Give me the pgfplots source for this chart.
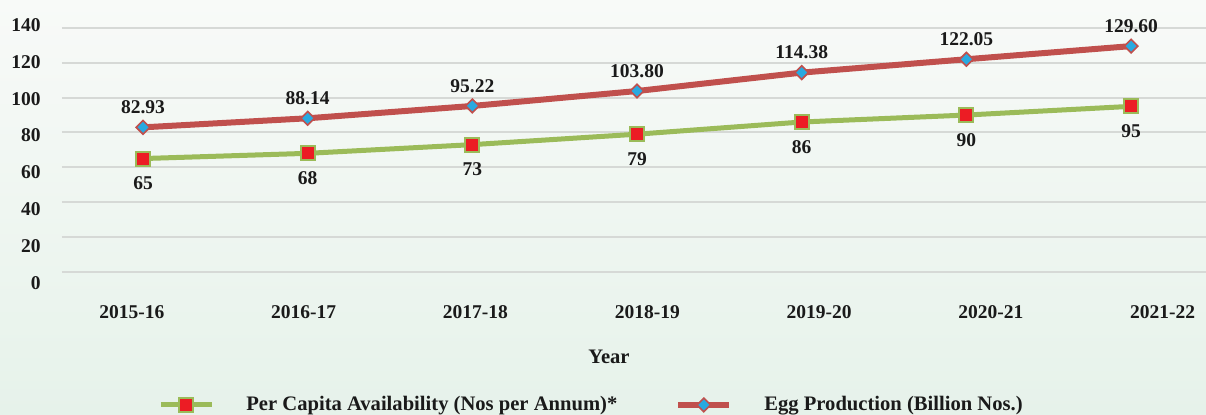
\documentclass[border=0pt]{standalone}
\usepackage{fontspec}
\setmainfont{Liberation Serif}
\usepackage{pgfplots}
\pgfplotsset{compat=1.18}

\definecolor{bgtop}{HTML}{F8FAF8}
\definecolor{bgbot}{HTML}{E6F2EA}
\definecolor{eggred}{HTML}{C0504D}
\definecolor{capgreen}{HTML}{9BBB59}
\definecolor{mkblue}{HTML}{29A9E0}
\definecolor{mkred}{HTML}{EC1C24}
\definecolor{txt}{HTML}{1A1A1A}
\definecolor{gridc}{HTML}{D6D9D6}

\newcommand{\lbl}{\fontsize{9.75}{11}\selectfont\bfseries}
\newcommand{\leglbl}{\fontsize{10.3}{12}\selectfont\bfseries}

\begin{document}
\begin{tikzpicture}[font=\lbl, text=txt]
\useasboundingbox (0,0) rectangle (603pt,207.5pt);
\shade[top color=bgtop, bottom color=bgbot] (0,0) rectangle (603pt,207.5pt);
\begin{axis}[
    at={(31pt,65.55pt)}, anchor=south west,
    scale only axis, width=572pt, height=129.68pt,
    xmin=-0.4919, xmax=6.455,
    ymin=-7, ymax=142,
    axis line style={draw=none},
    tick style={draw=none},
    clip=false,
    /pgf/number format/assume math mode=true,
    xtick={-0.067,0.976,2.019,3.062,4.105,5.149,6.192},
    xticklabels={2015-16,2016-17,2017-18,2018-19,2019-20,2020-21,2021-22},
    ytick={-6.32,14.82,35.96,57.10,78.24,99.38,120.52,141.66},
    yticklabels={0,20,40,60,80,100,120,140},
    extra y ticks={0,20,40,60,80,100,120,140},
    extra y tick labels={},
    extra y tick style={grid=major},
    major grid style={draw=gridc, line width=1pt},
    xticklabel style={anchor=center, yshift=-13.9pt, font=\lbl},
    yticklabel style={anchor=east, inner xsep=0pt, xshift=-10.5pt, font=\lbl},
    legend columns=2,
    legend cell align=left,
    legend image code/.code={
        \draw[mark repeat=2, mark phase=2, #1]
            plot coordinates {(0pt,0pt) (12.75pt,0pt) (25.5pt,0pt)};
    },
    legend style={
        at={(0.0839,-0.4668)}, anchor=west,
        draw=none, fill=none, inner sep=0pt, font=\leglbl,
        /tikz/every odd column/.append style={column sep=14pt},
        /tikz/every even column/.append style={column sep=27pt},
    },
]

    \addplot[
        color=capgreen, line width=2.5pt,
        mark=square*, mark size=3.5pt,
        mark options={fill=mkred, draw=capgreen, line width=1pt},
        nodes near coords,
        every node near coord/.append style={anchor=center, yshift=-12.5pt, text=txt, font=\lbl},
        ]
        coordinates {
        (0,65)(1,68)(2,73)(3,79)(4,86)(5,90)(6,95)
        };
        \addlegendentry{Per Capita Availability (Nos per Annum)*}

    \addplot[
        color=eggred, line width=3pt,
        mark=square*, mark size=2.4pt,
        mark options={fill=mkblue, draw=eggred, line width=0.8pt, rotate=45},
        nodes near coords={\pgfmathprintnumber[fixed,fixed zerofill,precision=2]{\pgfplotspointmeta}},
        every node near coord/.append style={anchor=center, yshift=10pt, text=txt, font=\lbl},
        ]
        coordinates {
        (0,82.93)(1,88.14)(2,95.22)(3,103.80)(4,114.38)(5,122.05)(6,129.60)
        };
        \addlegendentry{Egg Production (Billion Nos.)}
\end{axis}
\node[font=\leglbl] at (304.5pt,29pt) {Year};
\end{tikzpicture}
\end{document}
